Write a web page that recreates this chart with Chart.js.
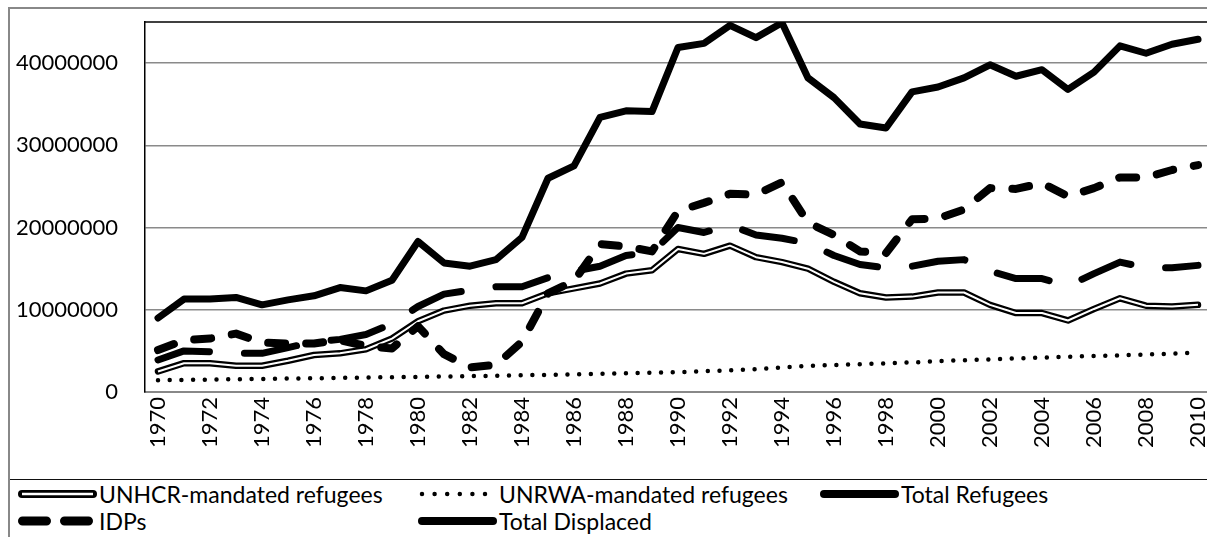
<!DOCTYPE html>
<html>
<head>
<meta charset="utf-8">
<script src="https://cdn.jsdelivr.net/npm/chart.js@4/dist/chart.umd.min.js"></script>
<style>
  html, body { margin: 0; padding: 0; background: #fff; overflow: hidden; width: 1207px; height: 537px; }
  #frame { position: absolute; left: 8px; top: 7px; width: 1220px; height: 560px; border: 2px solid #888; box-sizing: border-box; }
  #wrap { position: absolute; left: 10px; top: 9px; width: 1201px; height: 470px; }
  #legend { position: absolute; left: 10px; top: 479px; width: 1210px; height: 70px; border-top: 1.5px solid #111; }
  .item { position: absolute; display: flex; align-items: center; height: 26px; font-family: Lato, sans-serif; font-size: 23px; color: #000; white-space: nowrap; }
  .item svg { display: block; margin-right: 2px; }
</style>
</head>
<body>
<div id="frame"></div>
<div id="wrap"><canvas id="myChart" width="1201" height="470"></canvas></div>
<div id="legend">
  <div class="item" style="left:8px;top:1px">
    <svg width="79" height="14"><line x1="4" y1="7" x2="75" y2="7" stroke="#000" stroke-width="8" stroke-linecap="round"/><line x1="4" y1="7" x2="75" y2="7" stroke="#fff" stroke-width="2.5"/></svg>UNHCR-mandated refugees</div>
  <div class="item" style="left:408px;top:1px">
    <svg width="79" height="14"><line x1="4" y1="7" x2="68" y2="7" stroke="#000" stroke-width="4.5" stroke-dasharray="0 12.6" stroke-linecap="round"/></svg>UNRWA-mandated refugees</div>
  <div class="item" style="left:810px;top:1px">
    <svg width="79" height="14"><line x1="4" y1="7" x2="75" y2="7" stroke="#000" stroke-width="8" stroke-linecap="round"/></svg>Total Refugees</div>
  <div class="item" style="left:8px;top:28px">
    <svg width="79" height="14"><line x1="4.5" y1="7" x2="70.5" y2="7" stroke="#000" stroke-width="9" stroke-dasharray="24 18" stroke-linecap="round"/></svg>IDPs</div>
  <div class="item" style="left:408px;top:28px">
    <svg width="79" height="14"><line x1="4" y1="7" x2="75" y2="7" stroke="#000" stroke-width="8" stroke-linecap="round"/></svg>Total Displaced</div>
</div>
<script>
const years = ['1970','1971','1972','1973','1974','1975','1976','1977','1978','1979',
  '1980','1981','1982','1983','1984','1985','1986','1987','1988','1989',
  '1990','1991','1992','1993','1994','1995','1996','1997','1998','1999',
  '2000','2001','2002','2003','2004','2005','2006','2007','2008','2009','2010'];

const unhcr = [2.5e6, 3.5e6, 3.5e6, 3.2e6, 3.2e6, 3.8e6, 4.5e6, 4.7e6, 5.2e6, 6.5e6,
  8.6e6, 9.9e6, 10.5e6, 10.8e6, 10.8e6, 12.0e6, 12.6e6, 13.2e6, 14.4e6, 14.8e6,
  17.4e6, 16.8e6, 17.8e6, 16.4e6, 15.8e6, 15.0e6, 13.4e6, 12.0e6, 11.5e6, 11.6e6,
  12.1e6, 12.1e6, 10.6e6, 9.6e6, 9.6e6, 8.7e6, 10.1e6, 11.4e6, 10.5e6, 10.4e6, 10.6e6];

const unrwa = [1.43e6, 1.47e6, 1.51e6, 1.55e6, 1.59e6, 1.63e6, 1.67e6, 1.71e6, 1.76e6, 1.80e6,
  1.84e6, 1.89e6, 1.93e6, 1.98e6, 2.03e6, 2.09e6, 2.15e6, 2.22e6, 2.29e6, 2.36e6,
  2.42e6, 2.52e6, 2.65e6, 2.78e6, 2.97e6, 3.17e6, 3.28e6, 3.38e6, 3.49e6, 3.60e6,
  3.74e6, 3.87e6, 3.97e6, 4.08e6, 4.18e6, 4.28e6, 4.38e6, 4.46e6, 4.55e6, 4.67e6, 4.77e6];

const totalRefugees = [3.9e6, 5.0e6, 4.9e6, 4.7e6, 4.7e6, 5.4e6, 6.1e6, 6.4e6, 7.0e6, 8.3e6,
  10.4e6, 11.9e6, 12.4e6, 12.8e6, 12.8e6, 13.9e6, 14.7e6, 15.3e6, 16.6e6, 17.0e6,
  20.0e6, 19.4e6, 20.3e6, 19.1e6, 18.7e6, 18.1e6, 16.6e6, 15.5e6, 15.1e6, 15.3e6,
  15.9e6, 16.1e6, 14.7e6, 13.8e6, 13.8e6, 12.9e6, 14.4e6, 15.8e6, 15.1e6, 15.1e6, 15.4e6];

const idps = [5.1e6, 6.3e6, 6.5e6, 7.1e6, 6.0e6, 5.9e6, 5.9e6, 6.3e6, 5.6e6, 5.3e6,
  8.0e6, 4.6e6, 3.0e6, 3.3e6, 6.1e6, 12.0e6, 13.5e6, 18.0e6, 17.7e6, 17.1e6,
  22.0e6, 23.0e6, 24.1e6, 24.0e6, 25.5e6, 20.6e6, 19.1e6, 17.1e6, 16.9e6, 21.0e6,
  21.1e6, 22.2e6, 24.8e6, 24.7e6, 25.4e6, 23.8e6, 24.8e6, 26.1e6, 26.1e6, 27.0e6, 27.6e6];

const totalDisplaced = [9.0e6, 11.3e6, 11.3e6, 11.5e6, 10.6e6, 11.2e6, 11.7e6, 12.7e6, 12.3e6, 13.6e6,
  18.3e6, 15.7e6, 15.3e6, 16.1e6, 18.8e6, 26.0e6, 27.5e6, 33.4e6, 34.2e6, 34.1e6,
  41.9e6, 42.4e6, 44.6e6, 43.1e6, 44.9e6, 38.2e6, 35.8e6, 32.6e6, 32.1e6, 36.5e6,
  37.1e6, 38.2e6, 39.8e6, 38.4e6, 39.2e6, 36.8e6, 38.9e6, 42.1e6, 41.2e6, 42.3e6, 42.9e6];

const yTicks = [0, 10000000, 20000000, 30000000, 40000000];

// black line along the top of the plot area
const topBorder = {
    id: 'topBorder',
    afterDatasetsDraw(chart) {
        const { ctx, chartArea } = chart;
        ctx.save();
        ctx.strokeStyle = '#000';
        ctx.lineWidth = 1.5;
        ctx.beginPath();
        ctx.moveTo(chartArea.left - 0.75, chartArea.top);
        ctx.lineTo(chartArea.right + 10, chartArea.top);
        ctx.stroke();
        ctx.restore();
    }
};

const base = {
    fill: false,
    pointRadius: 0,
    pointHoverRadius: 0,
    tension: 0,
    borderJoinStyle: 'round',
    borderCapStyle: 'round',
    borderColor: '#000'
};

const ctx = document.getElementById('myChart');

new Chart(ctx, {
    type: 'line',
    data: {
        labels: years,
        datasets: [
            { ...base, label: 'Total Displaced', data: totalDisplaced, borderWidth: 7, order: 0 },
            { ...base, label: 'IDPs', data: idps, borderWidth: 8, borderDash: [17, 21], order: 1 },
            { ...base, label: 'Total Refugees', data: totalRefugees, borderWidth: 7, borderDash: [53, 35], order: 2 },
            { ...base, label: 'UNRWA-mandated refugees', data: unrwa, borderWidth: 4.5, borderDash: [0, 11.7], order: 3 },
            { ...base, label: 'UNHCR-mandated refugees', data: unhcr, borderWidth: 2, borderColor: '#fff', borderCapStyle: 'butt', order: 4 },
            { ...base, label: 'UNHCR-mandated refugees', data: unhcr, borderWidth: 6.5, order: 5 }
        ]
    },
    options: {
        responsive: false,
        animation: false,
        events: [],
        layout: { padding: { top: 13, left: 0, right: 0, bottom: 0 } },
        plugins: {
            legend: { display: false },
            tooltip: { enabled: false }
        },
        scales: {
            x: {
                offset: true,
                grid: { display: false, drawTicks: false },
                border: { display: true, color: '#888', width: 2 },
                ticks: {
                    autoSkip: false,
                    minRotation: 90,
                    maxRotation: 90,
                    padding: 5,
                    color: '#000',
                    font: { family: 'Lato', size: 22 },
                    callback: function(value, index) {
                        return index % 2 === 0 ? years[index] : '';
                    }
                },
                afterFit: scale => {
                    scale.height = 87;
                    scale.paddingLeft = 0;
                    scale.paddingRight = 0;
                }
            },
            y: {
                min: 0,
                max: 45000000,
                grid: { color: '#8a8a8a', lineWidth: 1.5, drawTicks: false },
                border: { display: true, color: '#000', width: 1.5 },
                afterBuildTicks: scale => { scale.ticks = yTicks.map(v => ({ value: v })); },
                ticks: {
                    padding: 27,
                    color: '#000',
                    font: { family: 'Lato', size: 22 },
                    callback: v => String(v)
                },
                afterFit: scale => {
                    scale.width = 135;
                    scale.paddingTop = 0;
                    scale.paddingBottom = 0;
                }
            }
        }
    },
    plugins: [topBorder]
});
</script>
</body>
</html>
